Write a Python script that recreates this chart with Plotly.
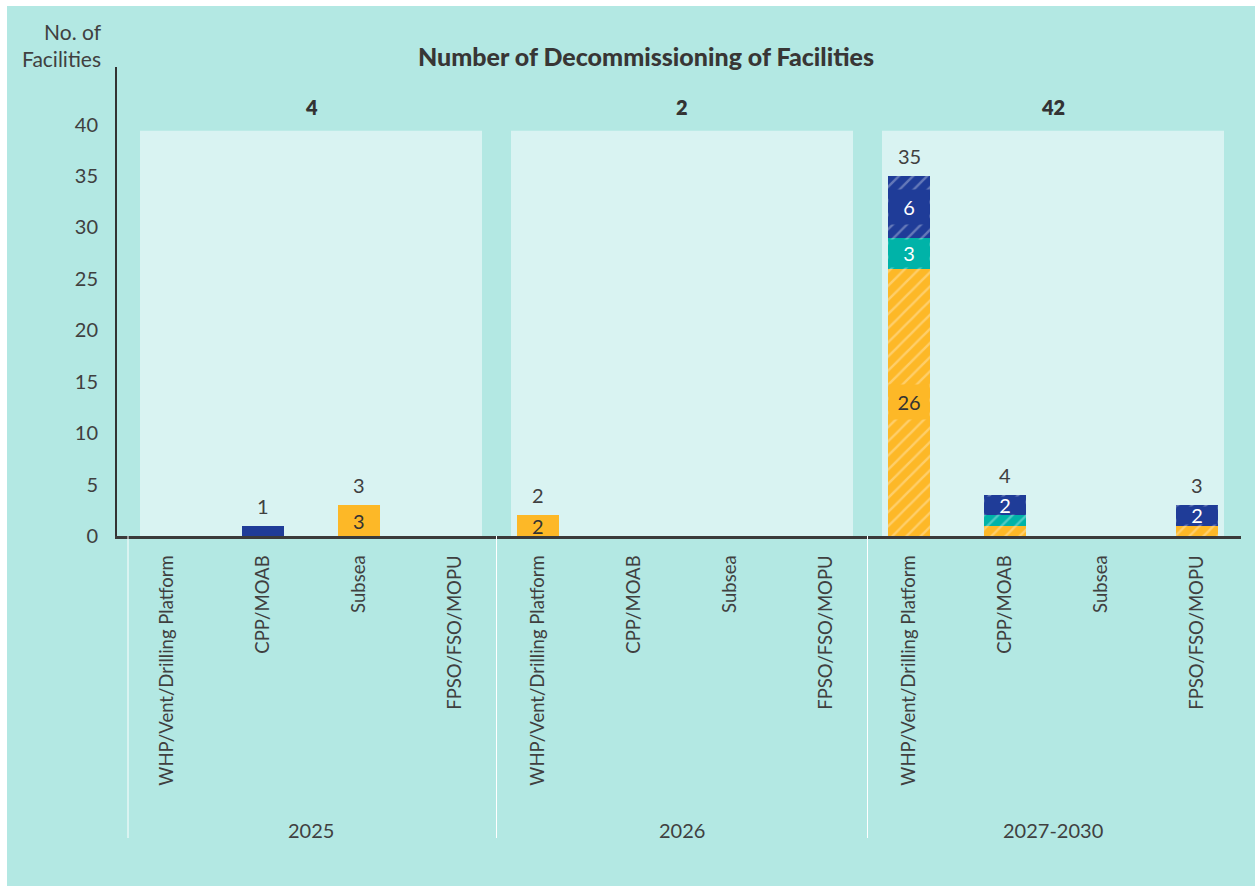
import plotly.graph_objects as go

# ---- data -------------------------------------------------------------
periods = ["2025", "2026", "2027-2030"]
facility_types = ["WHP/Vent/Drilling Platform", "CPP/MOAB", "Subsea", "FPSO/FSO/MOPU"]

# counts per period, in facility_types order
orange_counts = [[0, 0, 3, 0], [2, 0, 0, 0], [26, 1, 0, 1]]
teal_counts = [[0, 0, 0, 0], [0, 0, 0, 0], [3, 1, 0, 0]]
navy_counts = [[0, 1, 0, 0], [0, 0, 0, 0], [6, 2, 0, 2]]
hatched_periods = ["2027-2030"]

# ---- style ------------------------------------------------------------
W, H = 1258, 886
M_L, M_R, M_T, M_B = 117, 17, 67, 350
PLOT_W, PLOT_H = W - M_L - M_R, H - M_T - M_B
Y_MAX = 45.6
PX_PER_UNIT = PLOT_H / Y_MAX

ORANGE = "#FDB827"
TEAL = "#00B3A8"
NAVY = "#1F3C98"
BG = "#B3E8E3"
PANEL = "#D9F3F2"
TXT = "#404040"
FONT = "Lato"

CAT_STEP = 96      # distance between neighbouring facility types
GROUP_GAP = 83     # distance from last type of a period to first of the next
FIRST = 50
BAR_W = 42
PANEL_PAD = 27


def px_x(px):
    return (px - M_L) / PLOT_W


def px_y(py):
    return (H - M_B - py) / PLOT_H


# x positions of every (period, type) slot
positions = []
x = FIRST
for g, _ in enumerate(periods):
    row = []
    for i, _ in enumerate(facility_types):
        row.append(x)
        x += CAT_STEP if i < len(facility_types) - 1 else GROUP_GAP
    positions.append(row)

flat_x = [p for row in positions for p in row]
flat_labels = [t for _ in periods for t in facility_types]

fig = go.Figure()

series = [("Series 1", orange_counts, ORANGE, "#333333"),
          ("Series 2", teal_counts, TEAL, "white"),
          ("Series 3", navy_counts, NAVY, "white")]

for name, counts, color, _ in series:
    vals = [v for row in counts for v in row]
    shapes_ = ["/" if periods[g] in hatched_periods else ""
               for g in range(len(periods)) for _ in facility_types]
    fig.add_trace(go.Bar(
        x=flat_x, y=vals, width=BAR_W, name=name,
        marker=dict(color=color, line=dict(width=0),
                    pattern=dict(shape=shapes_, fgcolor="rgba(255,255,255,0.62)",
                                 size=10, solidity=0.24)),
        hoverinfo="skip", showlegend=False))

annotations = []
shapes = []

# light panels behind each period
for g, row in enumerate(positions):
    shapes.append(dict(type="rect", xref="x", yref="y", layer="below",
                       x0=row[0] - PANEL_PAD, x1=row[-1] + PANEL_PAD,
                       y0=0, y1=39.4, fillcolor=PANEL, line=dict(width=0)))

# segment labels and bar totals
for g, row in enumerate(positions):
    hatched = periods[g] in hatched_periods
    for i, xpos in enumerate(row):
        base = 0
        for _, counts, color, tcol in series:
            v = counts[g][i]
            if v >= 2:
                ann = dict(x=xpos, y=base + v / 2, xref="x", yref="y",
                           yanchor="middle", text=str(v), showarrow=False,
                           font=dict(family=FONT, size=20, color=tcol))
                if hatched:
                    ann.update(bgcolor=color, width=BAR_W - 2, borderpad=0,
                               height=min(34, v * PX_PER_UNIT - 4))
                annotations.append(ann)
            base += v
        if base > 0:
            annotations.append(dict(x=xpos, y=base, xref="x", yref="y",
                                    yanchor="middle", yshift=20,
                                    text=str(base), showarrow=False,
                                    font=dict(family=FONT, size=20, color=TXT)))
    # period total above the panel
    total = sum(orange_counts[g]) + sum(teal_counts[g]) + sum(navy_counts[g])
    mid = (row[0] + row[-1]) / 2
    annotations.append(dict(x=mid, y=px_y(107), xref="x", yref="paper",
                            yanchor="middle", text=str(total),
                            showarrow=False,
                            font=dict(family=FONT, size=20, color="#333333",
                                      weight=800)))
    # period name under the rotated type labels
    annotations.append(dict(x=mid, y=px_y(830), xref="x", yref="paper",
                            yanchor="middle", text=periods[g], showarrow=False,
                            font=dict(family=FONT, size=20, color=TXT)))

# white dividers between periods
div_x = [positions[0][0] - PANEL_PAD - 12]
for g in range(1, len(positions)):
    div_x.append((positions[g - 1][-1] + positions[g][0]) / 2)
for dx in div_x:
    shapes.append(dict(type="line", xref="x", yref="paper", x0=dx, x1=dx,
                       y0=0, y1=px_y(838), line=dict(color="white", width=1)))

# thin white frame on left, top and right edges
shapes += [
    dict(type="rect", xref="paper", yref="paper", x0=px_x(0), x1=px_x(7),
         y0=px_y(H), y1=px_y(0), fillcolor="white", line=dict(width=0)),
    dict(type="rect", xref="paper", yref="paper", x0=px_x(0), x1=px_x(W),
         y0=px_y(6), y1=px_y(0), fillcolor="white", line=dict(width=0)),
    dict(type="rect", xref="paper", yref="paper", x0=px_x(1255), x1=px_x(W),
         y0=px_y(H), y1=px_y(0), fillcolor="white", line=dict(width=0)),
]

# y axis title
annotations.append(dict(x=px_x(104), y=px_y(45), xref="paper", yref="paper",
                        xanchor="right", yanchor="middle", align="right",
                        text="No. of<br>Facilities", showarrow=False,
                        font=dict(family=FONT, size=21, color=TXT)))

# chart title
annotations.append(dict(x=px_x(646), y=px_y(56), xref="paper", yref="paper",
                        xanchor="center", yanchor="middle",
                        text="Number of Decommissioning of Facilities",
                        showarrow=False,
                        font=dict(family=FONT, size=25, color="#383635",
                                  weight=900)))

fig.update_layout(
    width=W, height=H, barmode="stack",
    margin=dict(l=M_L, r=M_R, t=M_T, b=M_B, pad=0),
    paper_bgcolor=BG, plot_bgcolor=BG,
    font=dict(family=FONT, color=TXT),
    annotations=annotations, shapes=shapes,
    xaxis=dict(range=[0, PLOT_W], tickmode="array", tickvals=flat_x,
               ticktext=flat_labels, tickangle=-90, ticks="",
               ticklabelstandoff=9, tickfont=dict(size=18.5, color=TXT),
               showgrid=False, zeroline=False, showline=True,
               linecolor="#3A3A3A", linewidth=3, fixedrange=True),
    yaxis=dict(range=[0, Y_MAX], tickmode="array",
               tickvals=list(range(0, 45, 5)), ticks="",
               ticklabelstandoff=13, tickfont=dict(size=20, color=TXT),
               showgrid=False, zeroline=False, showline=True,
               linecolor="#333333", linewidth=2, fixedrange=True),
)

fig.write_html("out.html")
